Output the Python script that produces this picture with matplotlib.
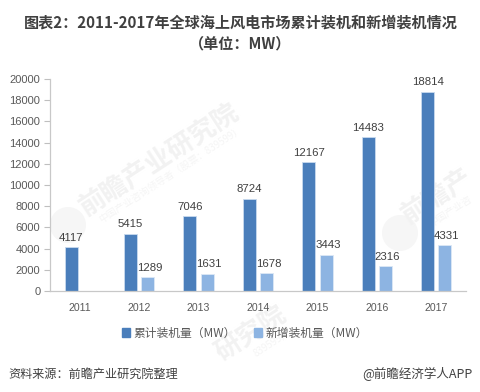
import matplotlib
matplotlib.use("Agg")
import matplotlib.pyplot as plt
from matplotlib.patches import Circle
from matplotlib.transforms import IdentityTransform

plt.rcParams['font.family'] = ['Noto Sans CJK SC', 'DejaVu Sans']

years = ['2011', '2012', '2013', '2014', '2015', '2016', '2017']
total = [4117, 5415, 7046, 8724, 12167, 14483, 18814]
added = [None, 1289, 1631, 1678, 3443, 2316, 4331]
yticks = list(range(0, 20001, 2000))
title_top = '图表2：2011-2017年全球海上风电市场累计装机和新增装机情况'
title_sub = '（单位：MW）'
names = ['累计装机量（MW）', '新增装机量（MW）']
source = '资料来源：前瞻产业研究院整理'
credit = '@前瞻经济学人APP'
mark_main = ['前瞻产业研究院', '前瞻产', '研究院']
mark_sub = ['中国产业咨询领导者（股票：839599）', '中国产业咨', '839599）']

W, H = 481, 392
fig = plt.figure(figsize=(W/100, H/100), dpi=100, facecolor='white')

main_pos = [(159, 160), (437, 197), (251, 334)]
sub_pos = [(171, 175), (450, 211), (272, 343)]
for txt, (x, y) in zip(mark_main, main_pos):
    fig.text(x/W, 1-y/H, txt, fontsize=19, color='#F2F2F2', rotation=33, rotation_mode='anchor',
             ha='center', va='center', fontweight='bold', zorder=-2)
for txt, (x, y) in zip(mark_sub, sub_pos):
    fig.text(x/W, 1-y/H, txt, fontsize=7, color='#F5F5F5', rotation=33, rotation_mode='anchor',
             ha='center', va='center', zorder=-2)
for cx, cy in [(68, 225), (400, 233)]:
    fig.add_artist(Circle((cx, H-cy), 18, transform=IdentityTransform(),
                          facecolor='#F6F6F6', edgecolor='none', zorder=-2))

ax = fig.add_axes([50/W, 1-291/H, 416/W, 212/H])
ax.set_facecolor('none')

dark, light = '#4A7EBB', '#8DB4E2'
w, off = 0.22, 0.145
xs = list(range(len(years)))
ax.bar([x-off for x in xs], total, w, color=dark, edgecolor='#C9DAEE', linewidth=0.6, zorder=2)
ax.bar([x+off for x, v in zip(xs, added) if v is not None], [v for v in added if v is not None], w,
       color=light, edgecolor='#DCE8F5', linewidth=0.6, zorder=2)

for x, v in zip(xs, total):
    ax.text(x-off, v+420, str(v), ha='center', va='bottom', fontsize=8.2, color='#404040',
            family='Liberation Sans', zorder=3)
for x, v in zip(xs, added):
    if v is not None:
        ax.text(x+off+0.03, v+420, str(v), ha='center', va='bottom', fontsize=8.2, color='#404040',
                family='Liberation Sans', zorder=3)

ax.set_xlim(-0.5, 6.5)
ax.set_ylim(0, 20000)
ax.set_yticks(yticks)
ax.set_xticks(xs)
ax.set_xticklabels(years, fontsize=7.6, color='#595959', family='Liberation Sans')
ax.tick_params(axis='y', length=4, width=0.8, color='#BFBFBF', labelsize=8, labelcolor='#595959', pad=3)
ax.tick_params(axis='x', length=0, pad=8.5)
for t in ax.get_yticklabels():
    t.set_family('Liberation Sans')
for s in ('top', 'right'):
    ax.spines[s].set_visible(False)
for s in ('left', 'bottom'):
    ax.spines[s].set_color('#C8C8C8')
    ax.spines[s].set_linewidth(0.9)

fig.text(241/W, 1-23/H, title_top, fontsize=10.9, fontweight='bold', color='#404040', ha='center', va='center')
fig.text(240/W, 1-43/H, title_sub, fontsize=10.9, fontweight='bold', color='#404040', ha='center', va='center')

h = [plt.Rectangle((0, 0), 1, 1, color=dark), plt.Rectangle((0, 0), 1, 1, color=light)]
fig.legend(h, names, loc='center', bbox_to_anchor=(245/W, 1-333/H), ncol=2, frameon=False, fontsize=8.5,
           labelcolor='#595959', handlelength=0.7, handleheight=0.7, handletextpad=0.3, columnspacing=1.5)

fig.text(8/W, 1-374/H, source, fontsize=8.7, style='italic', color='#404040', ha='left', va='center')
fig.text(473/W, 1-374/H, credit, fontsize=9, color='#404040', ha='right', va='center')

fig.savefig('out.png', dpi=100)
